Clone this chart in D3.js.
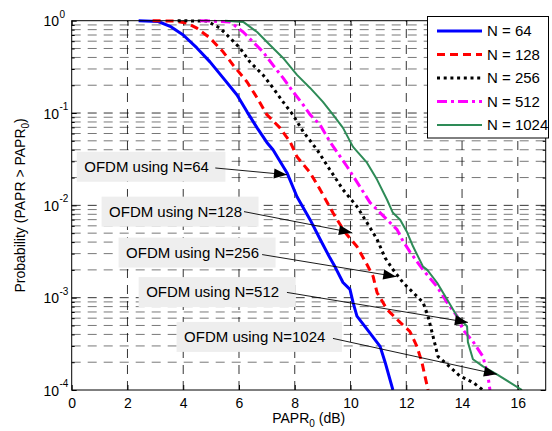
<!DOCTYPE html>
<html>
<head>
<meta charset="utf-8">
<script src="https://cdn.jsdelivr.net/npm/d3@7"></script>
<style>
  html, body { margin: 0; padding: 0; background: #fff; }
  svg { display: block; font-family: "Liberation Sans", Arial, Helvetica, sans-serif; }
</style>
</head>
<body>
<svg id="chart" width="552" height="431"></svg>
<script>
// CCDF of the OFDM peak-to-average power ratio for several FFT sizes.
// PAPR0 thresholds in dB and Pr(PAPR > PAPR0) for each N.
const papr64  = [2.4, 3.1, 3.53, 4.0, 4.49, 4.96, 5.43, 5.93, 6.29, 6.65, 7.0, 7.22, 7.72, 8.08, 8.55, 8.91, 9.26, 9.44, 9.73, 9.98, 10.09, 10.23, 10.59, 11.06, 11.24, 11.52];
const ccdf64  = [1, 0.98, 0.87, 0.70, 0.507, 0.358, 0.24, 0.157, 0.103, 0.069, 0.048, 0.04, 0.0226, 0.0124, 0.007, 0.0043, 0.0027, 0.00217, 0.00146, 0.00123, 0.00089, 0.00063, 0.000457, 0.000297, 0.0002, 0.0001];

const papr128 = [2.9, 3.7, 4.14, 4.49, 4.96, 5.43, 5.79, 6.29, 6.65, 7.0, 7.47, 7.83, 8.08, 8.55, 8.91, 9.37, 9.8, 10.23, 10.59, 10.81, 10.95, 11.31, 11.78, 12.13, 12.38, 12.56, 12.67, 12.78];
const ccdf128 = [1, 0.99, 0.94, 0.83, 0.65, 0.46, 0.33, 0.217, 0.146, 0.096, 0.069, 0.049, 0.0336, 0.0226, 0.0148, 0.0083, 0.0051, 0.00358, 0.00229, 0.0017, 0.00114, 0.000746, 0.00054, 0.00043, 0.000297, 0.0002, 0.000141, 0.0001];

const papr256 = [3.8, 4.85, 5.32, 5.68, 6.03, 6.39, 6.86, 7.22, 7.58, 7.94, 8.3, 8.8, 9.26, 9.73, 10.23, 10.59, 10.95, 11.24, 11.52, 11.88, 12.24, 12.6, 12.78, 12.96, 13.14, 13.46, 13.93, 14.39, 14.75];
const ccdf256 = [1, 0.99, 0.83, 0.65, 0.507, 0.358, 0.259, 0.187, 0.132, 0.095, 0.063, 0.04, 0.0243, 0.0148, 0.0097, 0.0065, 0.0043, 0.0027, 0.00202, 0.00146, 0.00114, 0.00089, 0.00063, 0.00038, 0.00023, 0.00019, 0.000141, 0.000121, 0.0001];

const papr512 = [4.6, 5.68, 6.15, 6.5, 6.86, 7.22, 7.58, 7.94, 8.3, 8.55, 8.91, 9.26, 9.88, 10.34, 10.7, 11.31, 11.67, 11.85, 12.14, 12.6, 13.1, 13.46, 13.82, 14.03, 14.39, 14.75, 14.93, 15.0];
const ccdf512 = [1, 0.97, 0.755, 0.59, 0.46, 0.33, 0.24, 0.17, 0.123, 0.096, 0.0745, 0.049, 0.0262, 0.0159, 0.0107, 0.007, 0.00546, 0.00426, 0.0031, 0.002, 0.00132, 0.00089, 0.00063, 0.00045, 0.000336, 0.00023, 0.000141, 0.0001];

const papr1024 = [5.5, 6.15, 6.65, 7.11, 7.58, 8.08, 8.55, 9.01, 9.37, 9.73, 10.09, 10.59, 10.95, 11.31, 11.52, 11.78, 12.03, 12.24, 12.6, 12.75, 13.1, 13.46, 13.82, 14.18, 14.21, 14.39, 14.75, 15.25, 15.71, 16.15];
const ccdf1024 = [1, 0.97, 0.755, 0.546, 0.395, 0.259, 0.187, 0.132, 0.096, 0.069, 0.043, 0.029, 0.019, 0.0115, 0.0083, 0.007, 0.0051, 0.0036, 0.00217, 0.002, 0.00146, 0.00096, 0.00063, 0.00049, 0.00033, 0.000215, 0.00018, 0.000148, 0.000121, 0.0001];

const seriesNames = ["N = 64", "N = 128", "N = 256", "N = 512", "N = 1024"];

// axis ticks
const xTicks = [0, 2, 4, 6, 8, 10, 12, 14, 16];
const yTicks = [1, 1e-1, 1e-2, 1e-3, 1e-4];
const yTickExps = ["0", "-1", "-2", "-3", "-4"];

// callout boxes: label, text anchor (dB, prob), arrow tail and head (dB, prob)
const noteLabels = ["OFDM using N=64", "OFDM using N=128", "OFDM using N=256", "OFDM using N=512", "OFDM using N=1024"];
const noteTextX  = [0.45, 1.34, 1.95, 2.67, 4.03];
const noteTextP  = [0.0262, 0.00855, 0.00308, 0.00115, 0.000376];
const noteFromX  = [5.15, 6.18, 6.83, 7.72, 9.37];
const noteFromP  = [0.0254, 0.00855, 0.00293, 0.00114, 0.000362];
const noteToX    = [7.72, 10.05, 11.64, 14.21, 15.25];
const noteToP    = [0.0215, 0.00507, 0.00169, 0.00054, 0.000148];

// ---- layout ----
const plot = { left: 71.7, right: 545.7, top: 20.7, bottom: 390 };

const svg = d3.select("#chart");
const x = d3.scaleLinear().domain([0, 17]).range([plot.left, plot.right]);
const y = d3.scaleLog().domain([1e-4, 1]).range([plot.bottom, plot.top]);

const styles = [
  { color: "#0000ff", width: 3,   dash: null },
  { color: "#ff0000", width: 3,   dash: "8,5" },
  { color: "#000000", width: 3,   dash: "3,3.7" },
  { color: "#ff00ff", width: 3,   dash: "10,4,3,4" },
  { color: "#2e8b57", width: 2,   dash: null }
];

const series = [
  [papr64, ccdf64], [papr128, ccdf128], [papr256, ccdf256], [papr512, ccdf512], [papr1024, ccdf1024]
].map(([xs, ps], i) => ({ name: seriesNames[i], pts: xs.map((v, j) => [v, ps[j]]), style: styles[i] }));

// ---- grid ----
const minorVals = [];
for (let e = -4; e < 0; e++) for (let k = 2; k <= 9; k++) minorVals.push(k * Math.pow(10, e));

const grid = svg.append("g").attr("fill", "none");
grid.selectAll("line.hmin").data(minorVals).join("line")
  .attr("x1", plot.left).attr("x2", plot.right)
  .attr("y1", d => y(d)).attr("y2", d => y(d))
  .attr("stroke", "#555").attr("stroke-width", 0.8).attr("stroke-dasharray", "9,7");
grid.selectAll("line.hmaj").data(yTicks.slice(1, -1)).join("line")
  .attr("x1", plot.left).attr("x2", plot.right)
  .attr("y1", d => y(d)).attr("y2", d => y(d))
  .attr("stroke", "#000").attr("stroke-width", 0.8).attr("stroke-dasharray", "9,7");
grid.selectAll("line.v").data(xTicks.slice(1)).join("line")
  .attr("x1", d => x(d)).attr("x2", d => x(d))
  .attr("y1", plot.bottom).attr("y2", plot.top)
  .attr("stroke", "#000").attr("stroke-width", 0.8).attr("stroke-dasharray", "9,7");

// ---- ticks (inward, on all four sides) ----
function tickAxis(axis, tx, ty) {
  const g = svg.append("g").attr("transform", `translate(${tx},${ty})`).call(axis);
  g.select(".domain").remove();
  g.selectAll(".tick line").attr("stroke", "#000").attr("stroke-width", 1);
  return g;
}
const xb = tickAxis(d3.axisBottom(x).tickValues(xTicks).tickSize(-5).tickSizeOuter(0).tickPadding(8), 0, plot.bottom);
xb.selectAll("text").attr("font-size", 14).attr("fill", "#000").attr("font-family", null);
tickAxis(d3.axisTop(x).tickValues(xTicks).tickSize(-5).tickFormat(""), 0, plot.top);
tickAxis(d3.axisLeft(y).tickValues(yTicks).tickSize(-5).tickFormat(""), plot.left, 0);
tickAxis(d3.axisLeft(y).tickValues(minorVals).tickSize(-3).tickFormat(""), plot.left, 0);
tickAxis(d3.axisRight(y).tickValues(yTicks).tickSize(-5).tickFormat(""), plot.right, 0);
tickAxis(d3.axisRight(y).tickValues(minorVals).tickSize(-3).tickFormat(""), plot.right, 0);

// y tick labels as powers of ten
const yl = svg.append("g").attr("font-size", 14).attr("fill", "#000");
yTicks.forEach((v, i) => {
  yl.append("text").attr("x", 59).attr("y", y(v) + 5.5).attr("text-anchor", "end").text("10");
  yl.append("text").attr("x", 59.5).attr("y", y(v) - 3).attr("font-size", 10).text(yTickExps[i]);
});

// ---- curves ----
svg.append("clipPath").attr("id", "clip").append("rect")
  .attr("x", plot.left).attr("y", plot.top - 2)
  .attr("width", plot.right - plot.left).attr("height", plot.bottom - plot.top + 2);

const line = d3.line().x(d => x(d[0])).y(d => y(d[1]));
svg.append("g").attr("clip-path", "url(#clip)")
  .selectAll("path").data(series).join("path")
  .attr("d", d => line(d.pts))
  .attr("fill", "none")
  .attr("stroke", d => d.style.color)
  .attr("stroke-width", d => d.style.width)
  .attr("stroke-dasharray", d => d.style.dash)
  .attr("stroke-linejoin", "round");

// axes box
svg.append("rect")
  .attr("x", plot.left).attr("y", plot.top)
  .attr("width", plot.right - plot.left).attr("height", plot.bottom - plot.top)
  .attr("fill", "none").attr("stroke", "#000").attr("stroke-width", 1);

// ---- callouts ----
const notes = svg.append("g");
noteLabels.forEach((label, i) => {
  const tx = x(noteTextX[i]), ty = y(noteTextP[i]);
  const g = notes.append("g");
  const rect = g.append("rect").attr("fill", "#eeeeee");
  const t = g.append("text").attr("x", tx).attr("y", ty).attr("dy", "0.35em")
    .attr("font-size", 15).attr("fill", "#000").text(label);
  const w = t.node().getComputedTextLength();
  rect.attr("x", tx - 7.5).attr("y", ty - 15).attr("width", w + 24).attr("height", 30);

  const x0 = x(noteFromX[i]), y0 = y(noteFromP[i]);
  const x1 = x(noteToX[i]),   y1 = y(noteToP[i]);
  g.append("line").attr("x1", x0).attr("y1", y0).attr("x2", x1).attr("y2", y1)
    .attr("stroke", "#000").attr("stroke-width", 0.9);
  const ang = Math.atan2(y1 - y0, x1 - x0);
  const L = 13, hw = 5;
  const bx = x1 - L * Math.cos(ang), by = y1 - L * Math.sin(ang);
  const nx = -Math.sin(ang) * hw, ny = Math.cos(ang) * hw;
  g.append("path")
    .attr("d", `M${x1},${y1}L${bx + nx},${by + ny}L${bx - nx},${by - ny}Z`)
    .attr("fill", "#000");
});

// ---- legend ----
const lg = svg.append("g");
lg.append("rect").attr("x", 427.5).attr("y", 16.5).attr("width", 121).attr("height", 121.5)
  .attr("fill", "#fff").attr("stroke", "#000").attr("stroke-width", 1);
series.forEach((s, i) => {
  const cy = 31 + i * 23.5;
  lg.append("line").attr("x1", 437).attr("x2", 482).attr("y1", cy).attr("y2", cy)
    .attr("stroke", s.style.color).attr("stroke-width", s.style.width)
    .attr("stroke-dasharray", s.style.dash);
  lg.append("text").attr("x", 487).attr("y", cy).attr("dy", "0.36em")
    .attr("font-size", 15).attr("fill", "#000").text(s.name);
});

// ---- axis titles ----
const xt = svg.append("text").attr("x", (plot.left + plot.right) / 2).attr("y", 423)
  .attr("text-anchor", "middle").attr("font-size", 14).attr("fill", "#000");
xt.append("tspan").text("PAPR");
xt.append("tspan").attr("font-size", 10).attr("dy", 4).text("0");
xt.append("tspan").attr("dy", -4).text(" (dB)");

const yt = svg.append("text")
  .attr("transform", `translate(25,${(plot.top + plot.bottom) / 2}) rotate(-90)`)
  .attr("text-anchor", "middle").attr("font-size", 14).attr("fill", "#000");
yt.append("tspan").text("Probability (PAPR > PAPR");
yt.append("tspan").attr("font-size", 10).attr("dy", 4).text("0");
yt.append("tspan").attr("dy", -4).text(")");
</script>
</body>
</html>
